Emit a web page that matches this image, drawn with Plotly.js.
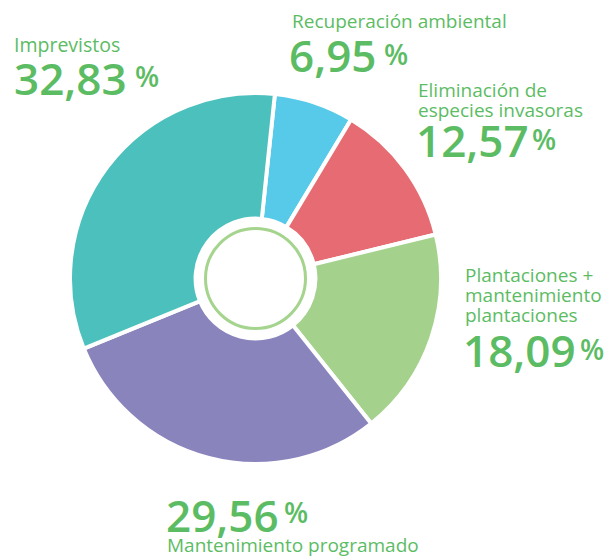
<!DOCTYPE html>
<html>
<head>
<meta charset="utf-8">
<script src="https://cdn.plot.ly/plotly-3.0.1.min.js"></script>
<style>
  html, body { margin: 0; padding: 0; background: #ffffff; }
  #chart { width: 605px; height: 560px; }
</style>
</head>
<body>
<div id="chart"></div>
<script>
// ---- data ----
var categories = [
  "Recuperación ambiental",
  "Eliminación de especies invasoras",
  "Plantaciones + mantenimiento plantaciones",
  "Mantenimiento programado",
  "Imprevistos"
];
var values = [6.95, 12.57, 18.09, 29.56, 32.83];
var labelLines = [
  ["Recuperación ambiental"],
  ["Eliminación de", "especies invasoras"],
  ["Plantaciones +", "mantenimiento", "plantaciones"],
  ["Mantenimiento programado"],
  ["Imprevistos"]
];

// ---- styles / layout ----
var sliceColors = ["#57c9e9", "#e66b72", "#a4d28c", "#8a84bd", "#4cc0bc"];
var textColor = "#5cbc64";
var FONT = "Open Sans, Noto Sans, sans-serif";
var W = 605, H = 560;

// label positions: [left x, first baseline, line step, font size]
var labelPos = [
  [290, 28, 20, 19],
  [416, 97, 20, 19],
  [463, 282, 20, 19],
  [165, 552, 20, 19],
  [12, 52, 20, 19.5]
];
// number positions: [left x, baseline], percent sign: [left x, baseline]
var numPos = [[287, 72], [414, 157], [461, 367], [164, 532], [12, 95]];
var pctPos = [[382, 65], [530, 150], [578, 360], [282, 523], [133, 87]];
var NUM_SIZE = 44, PCT_SIZE = 28;

function place(text, xpx, basePx, size, weight) {
  return {
    xref: "paper", yref: "paper",
    x: xpx / W, y: 1 - (basePx - 0.388 * size) / H,
    xanchor: "left", yanchor: "middle",
    showarrow: false, text: text,
    font: {family: FONT, size: size, color: textColor, weight: weight}
  };
}

var annotations = [];
for (var i = 0; i < categories.length; i++) {
  var lp = labelPos[i];
  for (var j = 0; j < labelLines[i].length; j++) {
    annotations.push(place(labelLines[i][j], lp[0], lp[1] + j * lp[2], lp[3], 400));
  }
  var numTxt = values[i].toFixed(2).replace(".", ",");
  annotations.push(place(numTxt, numPos[i][0], numPos[i][1], NUM_SIZE, 600));
  annotations.push(place("%", pctPos[i][0], pctPos[i][1], PCT_SIZE, 600));
}

// pie geometry
var cx = 255.5, cy = 278.5, R = 185.5;
var ringR = 50;

var trace = {
  type: "pie",
  labels: categories,
  values: values,
  sort: false,
  direction: "clockwise",
  rotation: 6,
  hole: 0.323,
  textinfo: "none",
  hoverinfo: "label+percent",
  marker: {colors: sliceColors, line: {color: "#ffffff", width: 4}},
  domain: {x: [(cx - R) / W, (cx + R) / W], y: [1 - (cy + R) / H, 1 - (cy - R) / H]}
};

var layout = {
  width: W, height: H,
  margin: {l: 0, r: 0, t: 0, b: 0},
  paper_bgcolor: "#ffffff",
  showlegend: false,
  annotations: annotations,
  shapes: [{
    type: "circle", xref: "paper", yref: "paper",
    x0: (cx - ringR) / W, x1: (cx + ringR) / W,
    y0: 1 - (cy + ringR) / H, y1: 1 - (cy - ringR) / H,
    line: {color: "#a5d48e", width: 3},
    fillcolor: "rgba(0,0,0,0)"
  }]
};

Plotly.newPlot("chart", [trace], layout, {displayModeBar: false, staticPlot: true});
</script>
</body>
</html>
